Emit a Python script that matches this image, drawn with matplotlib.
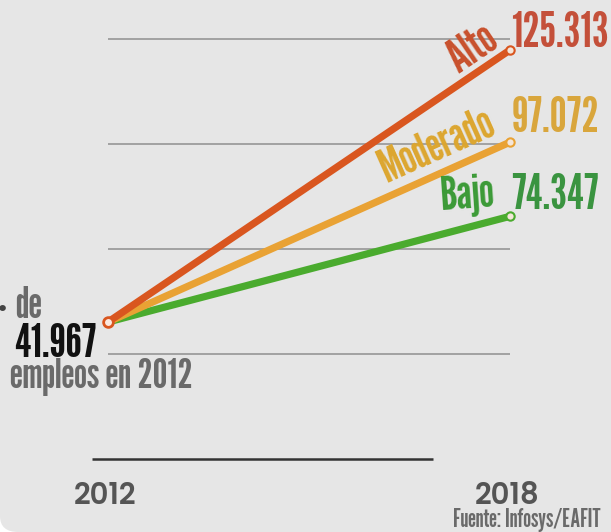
import matplotlib
matplotlib.use("Agg")
import matplotlib.pyplot as plt
from matplotlib.patches import FancyBboxPatch

# data
years = [2012, 2018]
start = 41967
scenarios = ["Bajo", "Moderado", "Alto"]
values_2018 = [74347, 97072, 125313]
source = "Fuente: Infosys/EAFIT"

line_colors = ["#4aab2e", "#e9a234", "#d9561f"]
text_colors = ["#3b9a36", "#dca62f", "#c8502c"]
num_colors = ["#3a9440", "#d9a63c", "#c4503a"]
label_rot = [4, 24, 34]
label_off = [(-11, 7), (-9, 6), (-7, 3)]
num_off = [(1, 15), (1, 17), (1, 12)]
grid_vals = [32200, 64400, 96600, 128800]

gothic = ["League Gothic", "DejaVu Sans"]
futura = ["Poppins", "Lato", "DejaVu Sans"]

def fmt(v):
    return f"{v:,}".replace(",", ".")

fig = plt.figure(figsize=(6.11, 5.32), dpi=100, facecolor="white")
bg = FancyBboxPatch((0, 0), 1.2, 1.2, boxstyle="round,pad=0,rounding_size=0.03",
                    transform=fig.transFigure, facecolor="#e6e6e6", edgecolor="none",
                    zorder=-10)
fig.patches.append(bg)

ax = fig.add_axes([0, 0, 1, 1])
ax.set_facecolor("none")
ax.set_xlim(2012 - 108 / 67, 2012 + 503 / 67)
ax.set_ylim((459 - 532) / 0.003264, 459 / 0.003264)
ax.axis("off")

ax.hlines(grid_vals, 2012, 2018, color="#969696", lw=1.2, zorder=1)
ax.hlines(0, 2011.76, 2016.85, color="#333333", lw=1.8, zorder=1)

for name, v, lc, tc, nc, rot, lo, no in zip(scenarios, values_2018, line_colors,
                                            text_colors, num_colors, label_rot,
                                            label_off, num_off):
    ax.plot(years, [start, v], color=lc, lw=5.2, solid_capstyle="round", zorder=3)
    ax.plot(years[1], v, "o", ms=6, mfc="#f4e6da", mec=lc, mew=1.5, zorder=4)
    ax.annotate(name, (years[1], v), xytext=lo, textcoords="offset points",
                ha="right", va="baseline", rotation=rot, rotation_mode="anchor",
                color=tc, fontsize=34, family=gothic, zorder=5)
    ax.annotate(fmt(v), (years[1], v), xytext=no, textcoords="offset points",
                ha="left", va="center", color=nc, fontsize=34.5,
                family=gothic, zorder=5)

ax.plot(years[0], start, "o", ms=7, mfc="#fbe9e0", mec="#d9561f", mew=2, zorder=6)

for yr in years:
    ax.annotate(str(yr), (yr, 0), xytext=(-2, -27), textcoords="offset points",
                ha="center", va="center", color="#555555", fontsize=21,
                fontweight="semibold", family=futura)

fig.text(15 / 611, 1 - 318 / 532, "de", color="#6a6a6a", fontsize=31, family=gothic)
fig.text(14 / 611, 1 - 357 / 532, fmt(start), color="#111111", fontsize=34,
         family=gothic)
fig.text(10 / 611, 1 - 388 / 532, "empleos en 2012", color="#6a6a6a", fontsize=30,
         family=gothic)
fig.text(-4 / 611, 1 - 316 / 532, "\u2022", color="#444444", fontsize=16)
fig.text(601 / 611, 1 - 527 / 532, source, ha="right", color="#6a6a6a",
         fontsize=18, family=gothic)

plt.savefig("out.png", dpi=100, facecolor=fig.get_facecolor())
